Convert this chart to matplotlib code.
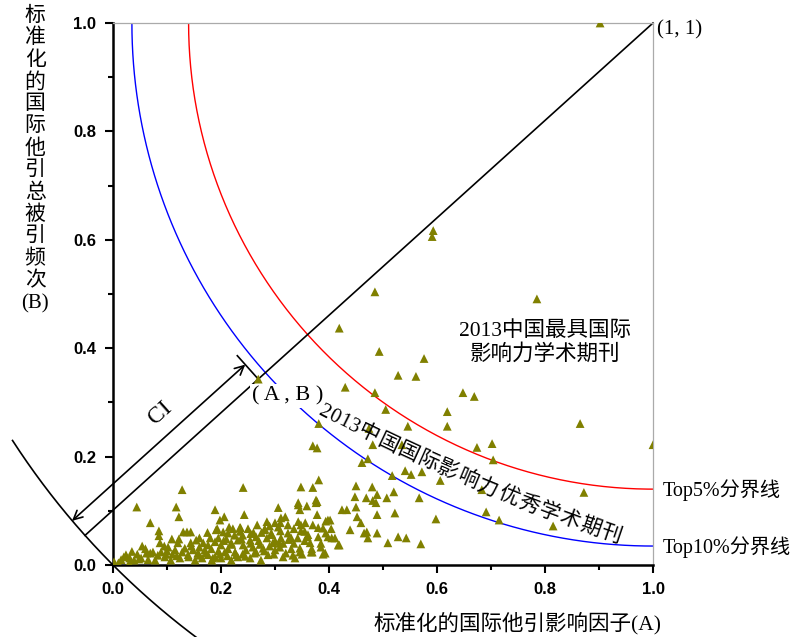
import numpy as np
import matplotlib
matplotlib.use('Agg')
import matplotlib.pyplot as plt

# normalised international citation impact factor (A) and total citations (B)
A = [0.902, 0.593, 0.591, 0.485, 0.419, 0.493, 0.576, 0.528, 0.561, 0.430,
     0.485, 0.648, 0.669, 0.785, 0.505, 0.619, 0.619, 0.546, 0.474, 0.865,
     1.000, 0.674, 0.702, 0.704, 0.683, 0.872, 0.691, 0.715, 0.815, 0.481,
     0.535, 0.461, 0.472, 0.541, 0.552, 0.572, 0.517, 0.606, 0.450, 0.480,
     0.520, 0.381, 0.370, 0.378, 0.269, 0.348, 0.370, 0.381, 0.128, 0.241,
     0.343, 0.378, 0.306, 0.359, 0.489, 0.481, 0.507, 0.448, 0.469, 0.424,
     0.433, 0.450, 0.452, 0.489, 0.522, 0.567, 0.598, 0.439, 0.470, 0.472,
     0.489, 0.509, 0.528, 0.543, 0.570, 0.348, 0.370, 0.389, 0.398, 0.398,
     0.417, 0.369, 0.389, 0.337, 0.346, 0.487, 0.459, 0.465, 0.402, 0.404,
     0.405, 0.411, 0.419,
     0.044, 0.117, 0.122, 0.189, 0.069, 0.085, 0.085, 0.087, 0.130, 0.137,
     0.144, 0.109, 0.122, 0.120, 0.054, 0.074, 0.069, 0.024, 0.031, 0.039,
     0.052, 0.089, 0.102, 0.096, 0.115, 0.133, 0.144, 0.154, 0.167, 0.176,
     0.191, 0.189, 0.139, 0.157, 0.176, 0.124, 0.107, 0.078, 0.152, 0.189,
     0.002,
     0.243, 0.198, 0.206, 0.193, 0.300, 0.235, 0.267, 0.281, 0.294,
     0.343, 0.346, 0.376, 0.376, 0.319, 0.311, 0.378, 0.394, 0.343, 0.356,
     0.324, 0.306, 0.380, 0.222, 0.236, 0.250, 0.281, 0.213, 0.204, 0.293,
     0.324, 0.348, 0.361, 0.380, 0.394, 0.330, 0.311, 0.296, 0.265, 0.254,
     0.231, 0.219, 0.241, 0.259, 0.278, 0.200, 0.207, 0.226, 0.246, 0.265,
     0.287, 0.309, 0.320, 0.346, 0.365, 0.367, 0.385, 0.393, 0.274, 0.219,
     0.231, 0.254,
     0.060, 0.045, 0.015, 0.020, 0.065, 0.098, 0.110, 0.128, 0.148, 0.160,
     0.170, 0.182, 0.195, 0.165, 0.183, 0.200, 0.210, 0.225, 0.240, 0.255,
     0.270, 0.285, 0.300, 0.315, 0.335, 0.355, 0.330, 0.300, 0.240, 0.213,
     0.275, 0.290, 0.310, 0.335, 0.355, 0.180, 0.160, 0.145, 0.095, 0.035,
     0.160, 0.172, 0.185, 0.198, 0.212, 0.228, 0.245, 0.262, 0.280, 0.298,
     0.315, 0.333, 0.350, 0.368, 0.385, 0.205, 0.220, 0.238, 0.255, 0.272,
     0.290, 0.308, 0.325, 0.342, 0.360, 0.140, 0.118, 0.100, 0.083, 0.062,
     0.048, 0.030, 0.010, 0.175, 0.195, 0.215, 0.235, 0.260, 0.285, 0.310]
B = [1.000, 0.617, 0.606, 0.504, 0.437, 0.394, 0.381, 0.350, 0.348, 0.328,
     0.318, 0.318, 0.311, 0.491, 0.287, 0.283, 0.256, 0.256, 0.252, 0.261,
     0.222, 0.217, 0.224, 0.194, 0.139, 0.134, 0.098, 0.083, 0.072, 0.222,
     0.222, 0.189, 0.196, 0.174, 0.167, 0.172, 0.165, 0.156, 0.146, 0.144,
     0.135, 0.261, 0.220, 0.216, 0.343, 0.144, 0.143, 0.157, 0.139, 0.143,
     0.115, 0.117, 0.106, 0.109, 0.130, 0.119, 0.124, 0.126, 0.124, 0.102,
     0.102, 0.107, 0.089, 0.093, 0.096, 0.124, 0.085, 0.065, 0.061, 0.050,
     0.059, 0.041, 0.052, 0.050, 0.039, 0.074, 0.074, 0.068, 0.083, 0.052,
     0.037, 0.024, 0.020, 0.013, 0.024, 0.115, 0.078, 0.059, 0.083, 0.067,
     0.050, 0.050, 0.037,
     0.107, 0.107, 0.089, 0.102, 0.078, 0.063, 0.054, 0.041, 0.061, 0.061,
     0.061, 0.048, 0.048, 0.041, 0.035, 0.024, 0.022, 0.019, 0.013, 0.009,
     0.013, 0.024, 0.033, 0.015, 0.028, 0.031, 0.041, 0.046, 0.041, 0.037,
     0.065, 0.043, 0.019, 0.022, 0.019, 0.013, 0.009, 0.009, 0.009, 0.015,
     0.006,
     0.093, 0.083, 0.089, 0.067, 0.078, 0.069, 0.074, 0.067, 0.056,
     0.111, 0.102, 0.120, 0.115, 0.089, 0.087, 0.093, 0.081, 0.080, 0.078,
     0.074, 0.070, 0.069, 0.067, 0.069, 0.067, 0.065, 0.059, 0.061, 0.059,
     0.059, 0.063, 0.056, 0.052, 0.059, 0.050, 0.050, 0.041, 0.052, 0.046,
     0.046, 0.041, 0.037, 0.033, 0.031, 0.037, 0.024, 0.024, 0.028, 0.024,
     0.019, 0.033, 0.022, 0.031, 0.041, 0.024, 0.033, 0.022, 0.009, 0.009,
     0.015, 0.013,
     0.030, 0.020, 0.010, 0.015, 0.010, 0.020, 0.020, 0.024, 0.028, 0.033,
     0.028, 0.030, 0.026, 0.013, 0.009, 0.013, 0.048, 0.055, 0.055, 0.058,
     0.045, 0.050, 0.045, 0.040, 0.040, 0.045, 0.030, 0.028, 0.020, 0.030,
     0.060, 0.072, 0.063, 0.067, 0.062, 0.050, 0.050, 0.035, 0.035, 0.025,
     0.018, 0.022, 0.013, 0.020, 0.017, 0.019, 0.016, 0.022, 0.026, 0.020,
     0.015, 0.018, 0.020, 0.030, 0.040, 0.045, 0.038, 0.048, 0.040, 0.038,
     0.035, 0.040, 0.047, 0.050, 0.052, 0.015, 0.017, 0.026, 0.018, 0.022,
     0.011, 0.004, 0.004, 0.060, 0.050, 0.070, 0.062, 0.060, 0.080, 0.078]

# radii of the boundary arcs around (1, 1)
top5_r = 0.86
top10_r = 0.965
ab_point = np.array([0.269, 0.343])

cjk = ['Liberation Serif', 'Noto Sans CJK SC']
olive = '#808000'

fig = plt.figure(figsize=(7.98, 6.37), dpi=100)
ax = fig.add_axes([0.1416, 0.1130, 0.6767, 0.8509])

# boundary arcs
theta = np.linspace(np.pi, 1.5 * np.pi, 400)
ax.plot(1 + top5_r * np.cos(theta), 1 + top5_r * np.sin(theta), color='red', lw=1.0, zorder=2)
ax.plot(1 + top10_r * np.cos(theta), 1 + top10_r * np.sin(theta), color='blue', lw=1.0, zorder=2)

# outer arc of radius sqrt(2) through the origin
r0 = np.sqrt(2)
theta0 = np.radians(np.linspace(213, 262, 200))
ax.plot(1 + r0 * np.cos(theta0), 1 + r0 * np.sin(theta0), color='black', lw=1.2, clip_on=False)

# line from (1,1) through (A,B) to the outer arc
d = (ab_point - 1) / np.linalg.norm(ab_point - 1)
end = 1 + r0 * d
ax.plot([end[0], 1], [end[1], 1], color='black', lw=1.2, clip_on=False)

# CI arrow, parallel to that line
n = np.array([d[1], -d[0]])
off = 0.036
ax.annotate('', xy=tuple(ab_point + off * n), xytext=tuple(end + off * n),
            arrowprops=dict(arrowstyle='<->', lw=1.2, color='black',
                            shrinkA=0, shrinkB=0, mutation_scale=16),
            annotation_clip=False)
tick_end = ab_point + 0.058 * n
ax.plot([ab_point[0], tick_end[0]], [ab_point[1], tick_end[1]], color='black', lw=1.2)

ax.scatter(A, B, marker='^', s=40, color=olive, edgecolors='none', zorder=3)

ax.set_xlim(0, 1)
ax.set_ylim(0, 1)
ax.set_xticks(np.arange(0, 1.01, 0.2))
ax.set_yticks(np.arange(0, 1.01, 0.2))
ax.set_xticks(np.arange(0.1, 1.0, 0.2), minor=True)
ax.set_yticks(np.arange(0.1, 1.0, 0.2), minor=True)
ax.tick_params(which='major', direction='out', length=6, width=1.5, labelsize=12, pad=6)
ax.tick_params(which='minor', direction='out', length=3.5, width=1.5)
for lbl in ax.get_xticklabels() + ax.get_yticklabels():
    lbl.set_fontweight('bold')
    lbl.set_fontfamily('Liberation Sans')
for s in ['left', 'bottom']:
    ax.spines[s].set_linewidth(1.8)
for s in ['top', 'right']:
    ax.spines[s].set_linewidth(0.9)
    ax.spines[s].set_color('#aaaaaa')

# annotations
ax.text(1.008, 0.988, '(1, 1)', fontsize=15, family=cjk, ha='left', va='center', clip_on=False)
ax.text(1.018, 0.139, 'Top5%分界线', fontsize=14.5, family=cjk, ha='left', va='center', clip_on=False)
ax.text(1.018, 0.033, 'Top10%分界线', fontsize=14.5, family=cjk, ha='left', va='center', clip_on=False)
ax.text(0.80, 0.41, '2013中国最具国际\n影响力学术期刊', fontsize=15.5, family=cjk,
        ha='center', va='center', linespacing=1.2)
ax.text(0.087, 0.280, 'CI', fontsize=17, family=cjk, rotation=41.8,
        ha='center', va='center', clip_on=False)
ax.text(0.324, 0.312, '( A , B )', fontsize=16, family=cjk, ha='center', va='center',
        bbox=dict(facecolor='white', edgecolor='none', pad=1.5), zorder=2.5)

# curved label between the two arcs: chars laid along a gentle arc
curve_chars = '2013中国国际影响力优秀学术期刊'
em = 0.0405
widths = [0.5 * em if ch.isdigit() else em for ch in curve_chars]
total = sum(widths)
phi0, phi1 = np.radians(-27.5), np.radians(-18.5)
kappa = (phi1 - phi0) / total
x0, y0 = 0.382, 0.286
s = 0.0
for ch, w in zip(curve_chars, widths):
    sc = s + w / 2
    phi = phi0 + kappa * sc
    cx = x0 + (np.sin(phi) - np.sin(phi0)) / kappa
    cy = y0 - (np.cos(phi) - np.cos(phi0)) / kappa
    ax.text(cx, cy, ch, fontsize=15, family=cjk, rotation=np.degrees(phi),
            ha='center', va='center', rotation_mode='anchor', zorder=4)
    s += w

# axis labels
fig.text(0.648, 0.022, '标准化的国际他引影响因子(A)', fontsize=15.5, family=cjk,
         ha='center', va='center')
fig.text(0.044, 0.99, '\n'.join(list('标准化的国际他引总被引频次') + ['(B)']),
         fontsize=15, family=cjk, ha='center', va='top', linespacing=1.2)

fig.savefig('out.png', dpi=100)
